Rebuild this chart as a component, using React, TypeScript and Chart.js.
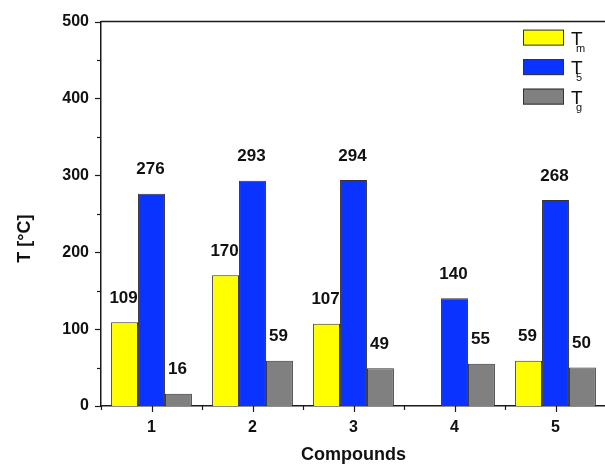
import { useEffect, useRef } from "react";
import { Chart, registerables } from "chart.js";

Chart.register(...registerables);

const categories = ["1", "2", "3", "4", "5"];
const tmValues: (number | null)[] = [109, 170, 107, null, 59];
const t5Values: (number | null)[] = [276, 293, 294, 140, 268];
const tgValues: (number | null)[] = [16, 59, 49, 55, 50];
const seriesMain = ["T", "T", "T"];
const seriesSub = ["m", "5", "g"];
const seriesColors = ["#FFFF00", "#0A33FF", "#808080"];
const yMin = 0;
const yMax = 500;
const yStep = 100;
const yMinorStep = 50;
const xTitle = "Compounds";
const yTitle = "T [°C]";

const FONT = "'Liberation Sans', Arial, sans-serif";
const AXIS_COLOR = "#1a1a1a";

const decorPlugin = {
  id: "decor",
  afterDatasetsDraw(chart: any) {
    const ctx = chart.ctx as CanvasRenderingContext2D;
    const area = chart.chartArea;
    const xs = chart.scales.x;
    const ys = chart.scales.y;
    ctx.save();
    // value labels
    ctx.fillStyle = "#111";
    ctx.font = `bold 17px ${FONT}`;
    ctx.textAlign = "center";
    ctx.textBaseline = "middle";
    chart.data.datasets.forEach((ds: any, di: number) => {
      const meta = chart.getDatasetMeta(di);
      meta.data.forEach((el: any, i: number) => {
        const v = ds.data[i];
        if (v === null || v === undefined) return;
        ctx.fillText(String(v), el.x - 1, el.y - 24);
      });
    });
    // frame lines (top, right)
    ctx.strokeStyle = AXIS_COLOR;
    ctx.lineWidth = 1.5;
    ctx.beginPath();
    ctx.moveTo(area.left, area.top);
    ctx.lineTo(area.right, area.top);
    ctx.lineTo(area.right, area.bottom);
    ctx.stroke();
    // y ticks
    ctx.lineWidth = 1.2;
    for (let v = yMin; v <= yMax; v += yMinorStep) {
      const y = Math.round(ys.getPixelForValue(v)) + 0.5;
      const len = v % yStep === 0 ? 6 : 4;
      ctx.beginPath();
      ctx.moveTo(area.left - len, y);
      ctx.lineTo(area.left, y);
      ctx.stroke();
    }
    // x ticks
    const half = (xs.getPixelForValue(1) - xs.getPixelForValue(0)) / 2;
    categories.forEach((_c, i) => {
      const x = Math.round(xs.getPixelForValue(i)) + 0.5;
      ctx.beginPath();
      ctx.moveTo(x, area.bottom);
      ctx.lineTo(x, area.bottom + 6);
      ctx.stroke();
      const xb = Math.round(xs.getPixelForValue(i) - half) + 0.5;
      ctx.beginPath();
      ctx.moveTo(xb, area.bottom);
      ctx.lineTo(xb, area.bottom + 4);
      ctx.stroke();
    });
    // axis titles
    ctx.fillStyle = "#111";
    ctx.font = `bold 18px ${FONT}`;
    ctx.textAlign = "center";
    ctx.textBaseline = "alphabetic";
    ctx.fillText(xTitle, (area.left + area.right) / 2, area.bottom + 54);
    ctx.save();
    ctx.translate(30, area.top + 217);
    ctx.rotate(-Math.PI / 2);
    ctx.fillText(yTitle, 0, 0);
    ctx.restore();
    // legend
    const boxX = area.right - 83;
    const boxW = 41;
    const boxH = 16;
    seriesMain.forEach((m, i) => {
      const top = area.top + 8 + i * 29.5;
      ctx.fillStyle = seriesColors[i];
      ctx.fillRect(boxX, top, boxW, boxH);
      ctx.strokeStyle = "#333";
      ctx.lineWidth = 1;
      ctx.strokeRect(boxX + 0.5, top + 0.5, boxW - 1, boxH - 1);
      ctx.fillStyle = "#111";
      ctx.textAlign = "left";
      ctx.textBaseline = "alphabetic";
      ctx.font = `19px ${FONT}`;
      const tx = boxX + boxW + 7;
      ctx.fillText(m, tx, top + 15);
      ctx.font = `11px ${FONT}`;
      ctx.fillText(seriesSub[i], tx + 5, top + 22);
    });
    ctx.restore();
  },
};

export default function App() {
  const ref = useRef<HTMLCanvasElement | null>(null);
  useEffect(() => {
    if (!ref.current) return;
    const chart = new Chart(ref.current, {
      type: "bar",
      data: {
        labels: categories,
        datasets: [
          { label: "Tm", data: tmValues, backgroundColor: seriesColors[0], borderColor: "#333", borderWidth: 1 },
          { label: "T5", data: t5Values, backgroundColor: seriesColors[1], borderColor: "#333", borderWidth: 1 },
          { label: "Tg", data: tgValues, backgroundColor: seriesColors[2], borderColor: "#333", borderWidth: 1 },
        ],
      },
      options: {
        responsive: false,
        animation: false,
        devicePixelRatio: 1,
        layout: { padding: { left: 0, right: 9, top: 20, bottom: 0 } },
        datasets: { bar: { categoryPercentage: 0.8, barPercentage: 1 } },
        plugins: {
          legend: { display: false },
          tooltip: { enabled: false },
          title: { display: false },
        },
        scales: {
          x: {
            type: "category",
            offset: true,
            grid: { display: false, drawTicks: false },
            border: { display: true, color: AXIS_COLOR, width: 1.5 },
            ticks: {
              color: "#111",
              font: { family: FONT, size: 16, weight: "bold" },
              padding: 12,
              maxRotation: 0,
            },
            afterFit: (s: any) => {
              s.height = 60;
            },
          },
          y: {
            min: yMin,
            max: yMax,
            grid: { display: false, drawTicks: false },
            border: { display: true, color: AXIS_COLOR, width: 1.5 },
            ticks: {
              stepSize: yStep,
              color: "#111",
              font: { family: FONT, size: 16, weight: "bold" },
              padding: 12,
            },
            afterFit: (s: any) => {
              s.width = 101;
            },
          },
        },
      },
      plugins: [decorPlugin],
    });
    return () => chart.destroy();
  }, []);
  return (
    <div style={{ position: "fixed", left: 0, top: 0, width: 605, height: 466, overflow: "hidden", background: "#fff" }}>
      <canvas ref={ref} width={615} height={466} style={{ display: "block" }} />
    </div>
  );
}
